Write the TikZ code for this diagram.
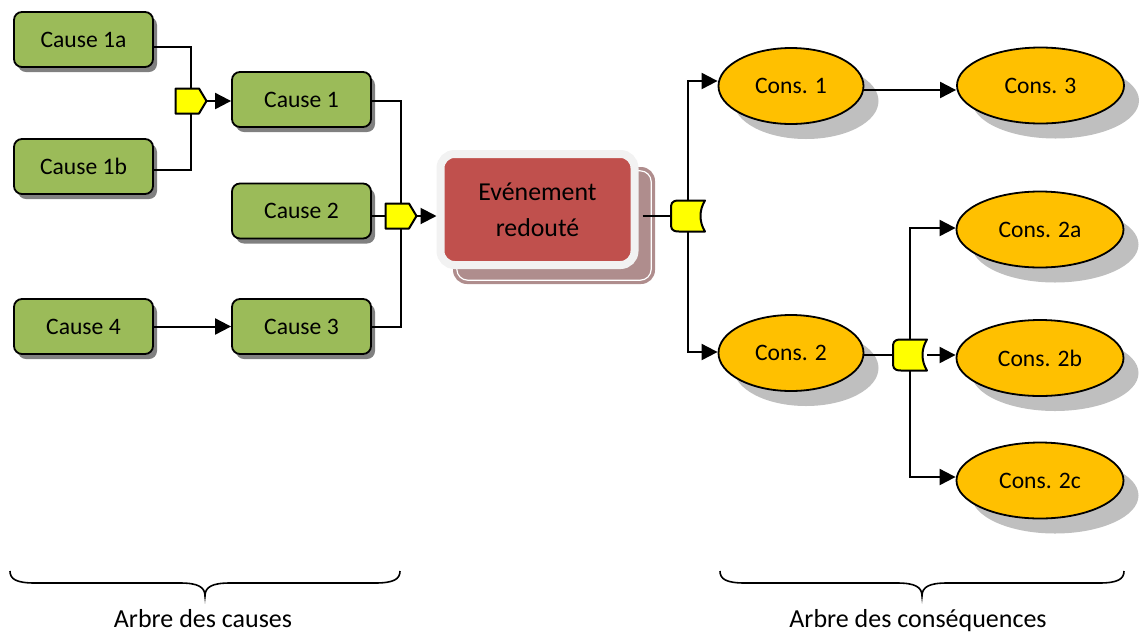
\documentclass[tikz,border=0pt]{standalone}
\usepackage{fontspec}
\setmainfont{Carlito}
\usetikzlibrary{arrows.meta,shadows,shapes.geometric,calc}
\pgfdeclarelayer{fg}\pgfdeclarelayer{top}
\pgfsetlayers{main,fg,top}
\definecolor{boxgreen}{HTML}{9BBB59}
\definecolor{evred}{HTML}{C0504D}
\definecolor{evshad}{HTML}{AF8D8D}
\definecolor{evring}{HTML}{F2F2F2}
\definecolor{consfill}{HTML}{FFC000}
\definecolor{gatey}{HTML}{FFFF00}
\tikzset{
  causebox/.style={draw=black, line width=1.8pt, fill=boxgreen, rounded corners=8pt,
    minimum width=139pt, minimum height=55pt, inner sep=0pt,
    font=\fontsize{23.6}{28}\selectfont,
    drop shadow={shadow xshift=4pt, shadow yshift=-5pt, fill=black!50, opacity=1}},
  conse/.style={ellipse, draw=black, line width=1.8pt, fill=consfill,
    minimum height=76pt, inner sep=0pt, font=\fontsize{23.6}{28}\selectfont,
    drop shadow={shadow xshift=15pt, shadow yshift=-15pt, fill=black!25, opacity=1}},
  conssmall/.style={conse, minimum width=145pt},
  consbig/.style={conse, minimum width=167pt},
  evnode/.style={draw=evring, line width=8pt, fill=evred, rounded corners=14pt,
    minimum width=194pt, minimum height=111pt, align=center, inner sep=0pt,
    font=\fontsize{25.8}{36}\selectfont},
  evshadbox/.style={fill=evshad, rounded corners=14pt, minimum width=202pt, minimum height=117pt, inner sep=0pt},
  gatebox/.style={draw=none, minimum width=31pt, minimum height=25pt, inner sep=0pt},
  orbox/.style={draw=none, minimum width=34pt, minimum height=31pt, inner sep=0pt},
  conn/.style={line width=2pt, draw=black},
  arr/.style={conn, -{Triangle[length=16pt,width=16pt]}},
  gateline/.style={draw=black, line width=2pt, fill=gatey, line join=round},
  lbl/.style={font=\fontsize{26}{30}\selectfont, inner sep=0pt},
  bracepath/.style={line width=1.6pt, draw=black},
  andgate/.pic={\path[gateline] (-15.5,-12.5) -- (8,-12.5) -- (15.5,0) -- (8,12.5) -- (-15.5,12.5) -- cycle;},
  orgate/.pic={\path[gateline] (17,-15.5) -- (-9,-15.5) .. controls (-17,-15.5) and (-17,-12) .. (-17,-7)
     -- (-17,7) .. controls (-17,12) and (-17,15.5) .. (-9,15.5) -- (17,15.5)
     .. controls (11,6) and (11,-6) .. (17,-15.5) -- cycle;}
}
\begin{document}
\begin{tikzpicture}[x=1pt,y=-1pt]
\useasboundingbox (0,0) rectangle (1144,633);

% cause tree
\node[causebox] (c1a) at (83.5,39.5) {Cause 1a};
\node[causebox] (c1b) at (83.5,166.5) {Cause 1b};
\node[causebox] (c1) at (301.5,99.5) {Cause 1};
\node[causebox] (c2) at (301.5,211) {Cause 2};
\node[causebox] (c4) at (83.5,326.5) {Cause 4};
\node[causebox] (c3) at (301.5,326.5) {Cause 3};

% central event
\node[evshadbox] (evs) at (554,225.5) {};
\draw[white, line width=1.2pt, rounded corners=11pt] ([shift={(4pt,-4pt)}]evs.north west) rectangle ([shift={(-4pt,4pt)}]evs.south east);
\node[evnode] (ev) at (537.5,209.5) {Evénement\\redouté};

% consequence tree
\node[conssmall] (k1) at (791,86) {Cons. 1};
\node[consbig] (k3) at (1040.5,85.5) {Cons. 3};
\node[conssmall] (k2) at (791,353) {Cons. 2};
\node[consbig] (k2a) at (1040,229.5) {Cons. 2a};
\node[consbig] (k2b) at (1040,358) {Cons. 2b};
\node[consbig] (k2c) at (1040,480.5) {Cons. 2c};

% gates
\begin{pgfonlayer}{top}
\node[gatebox] (g1) at (191,101) {};
\pic at (g1.center) {andgate};
\node[gatebox] (g2) at (401,216) {};
\pic at (g2.center) {andgate};
\node[orbox] (o1) at (688,216) {};
\pic at (o1.center) {orgate};
\node[orbox] (o2) at (910,355) {};
\pic at (o2.center) {orgate};
\end{pgfonlayer}

% connectors
\begin{pgfonlayer}{fg}
\draw[conn] ([yshift=-7.5pt]c1a.east) -| (g1.north);
\draw[conn] ([yshift=-3.5pt]c1b.east) -| (g1.south);
\draw[arr] (g1.east) -- (g1.east -| c1.west);
\draw[conn] ([yshift=-1.5pt]c1.east) -| (g2.north);
\draw[conn] (c3.east) -| (g2.south);
\draw[conn] (g2.west -| c2.east) -- (g2.west);
\draw[arr] (g2.east) -- (g2.east -| ev.west);
\draw[arr] (c4.east) -- (c3.west);
\draw[conn, shorten <=4pt] (o1.west -| ev.east) -- (o1.west);
\draw[arr] (o1.north) |- ([yshift=5pt]k1.west);
\draw[arr] (o1.south) |- ([yshift=1pt]k2.west);
\draw[arr] ([yshift=-4pt]k1.east) -- ([yshift=-4pt]k1.east -| k3.west);
\draw[conn] (o2.west -| k2.east) -- (o2.west);
\draw[arr] (o2.north) |- ([yshift=1.5pt]k2a.west);
\draw[arr] (o2.east) -- (o2.east -| k2b.west);
\draw[arr] (o2.south) |- ([yshift=3.5pt]k2c.west);
\end{pgfonlayer}

% braces
\draw[bracepath] (10,571) .. controls (10,579) and (16,583) .. (35,583) -- (180,583)
  .. controls (198,583) and (205,587) .. (205,596)
  .. controls (205,587) and (212,583) .. (230,583) -- (375,583)
  .. controls (394,583) and (400,579) .. (400,571);
\draw[bracepath] (720,571) .. controls (720,579) and (726,583) .. (745,583) -- (897,583)
  .. controls (915,583) and (922,587) .. (922,596)
  .. controls (922,587) and (929,583) .. (947,583) -- (1099,583)
  .. controls (1118,583) and (1124,579) .. (1124,571);
\node[lbl, anchor=base] (lc) at (203,627) {Arbre des causes};
\node[lbl, anchor=base] (lk) at (918,627) {Arbre des conséquences};
\end{tikzpicture}
\end{document}
